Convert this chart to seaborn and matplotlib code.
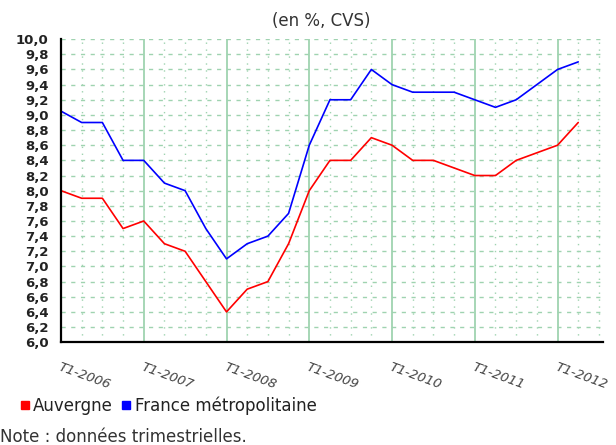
import matplotlib
matplotlib.use("Agg")
import matplotlib.pyplot as plt
import matplotlib.transforms as mtransforms
import pandas as pd
import seaborn as sns
from matplotlib.lines import Line2D
from matplotlib.ticker import MultipleLocator, FuncFormatter

# trimestres T1-2006 .. T2-2012
trimestres = [f"T{q}-{y}" for y in range(2006, 2013) for q in range(1, 5)][:26]
auvergne = [8.0, 7.9, 7.9, 7.5, 7.6, 7.3, 7.2, 6.8, 6.4, 6.7, 6.8, 7.3,
            8.0, 8.4, 8.4, 8.7, 8.6, 8.4, 8.4, 8.3, 8.2, 8.2, 8.4, 8.5, 8.6, 8.9]
france = [9.05, 8.9, 8.9, 8.4, 8.4, 8.1, 8.0, 7.5, 7.1, 7.3, 7.4, 7.7,
          8.6, 9.2, 9.2, 9.6, 9.4, 9.3, 9.3, 9.3, 9.2, 9.1, 9.2, 9.4, 9.6, 9.7]
annees = ["T1-2006", "T1-2007", "T1-2008", "T1-2009", "T1-2010", "T1-2011", "T1-2012"]

df = pd.DataFrame({
    "pos": list(range(len(trimestres))) * 2,
    "taux": auvergne + france,
    "zone": ["Auvergne"] * len(auvergne) + ["France métropolitaine"] * len(france),
})

sns.set_style("white")
plt.rcParams['font.family'] = ['DejaVu Sans']

fig = plt.figure(figsize=(6.16, 4.45), dpi=100)
ax = fig.add_axes([0.099, 0.231, 0.88, 0.681])

sns.lineplot(data=df, x="pos", y="taux", hue="zone",
             palette={"Auvergne": "#ff0000", "France métropolitaine": "#0000ff"},
             linewidth=1.2, legend=False, ax=ax)

ax.set_xlim(0, 26.2)
ax.set_ylim(6.0, 10.0)
ax.yaxis.set_major_locator(MultipleLocator(0.2))
ax.yaxis.set_major_formatter(FuncFormatter(lambda v, p: f"{v:.1f}".replace(".", ",")))
ax.set_xticks(range(0, 25, 4))
ax.set_xticks(range(0, 27), minor=True)
ax.set_xticklabels(annees, rotation=-20, ha="left", va="top",
                   rotation_mode="anchor", color="#444444", fontsize=9.5, style="italic")
shift = mtransforms.ScaledTranslation(3 / 100, 0, fig.dpi_scale_trans)
for lab in ax.get_xticklabels():
    lab.set_transform(lab.get_transform() + shift)
for lab in ax.get_yticklabels():
    lab.set_fontweight("bold")
    lab.set_fontsize(9.5)
    lab.set_color("#222222")

ax.tick_params(axis="y", direction="in", length=5, width=1.2, pad=9)
ax.tick_params(axis="x", which="major", direction="out", length=9, width=1.5, pad=4)
ax.tick_params(axis="x", which="minor", direction="out", length=5, width=1.2)

grid_col = "#9fd3b0"
ax.grid(axis="y", color=grid_col, linestyle=(0, (3, 4)), linewidth=1.0)
ax.grid(axis="x", which="major", color=grid_col, linestyle="-", linewidth=1.3)
ax.grid(axis="x", which="minor", color=grid_col, linestyle=(0, (1, 4)), linewidth=1.0)
ax.set_axisbelow(True)

for side in ["top", "right"]:
    ax.spines[side].set_visible(False)
for side in ["left", "bottom"]:
    ax.spines[side].set_color("black")
    ax.spines[side].set_linewidth(1.6)

ax.set_xlabel("")
ax.set_ylabel("")

fig.text(0.522, 0.952, "(en %, CVS)", ha="center", va="center", fontsize=12, color="#333333")

handles = [Line2D([], [], marker="s", linestyle="", color="#ff0000", markersize=6),
           Line2D([], [], marker="s", linestyle="", color="#0000ff", markersize=6)]
fig.legend(handles, ["Auvergne", "France métropolitaine"], loc="center left",
           bbox_to_anchor=(0.008, 0.088), ncol=2, frameon=False, fontsize=12,
           handlelength=0.6, handletextpad=0.2, columnspacing=0.5,
           labelcolor="#222222")

fig.text(0.0, 0.018, "Note : données trimestrielles.", ha="left", va="center",
         fontsize=12, color="#333333")

fig.savefig("out.png", dpi=100)
